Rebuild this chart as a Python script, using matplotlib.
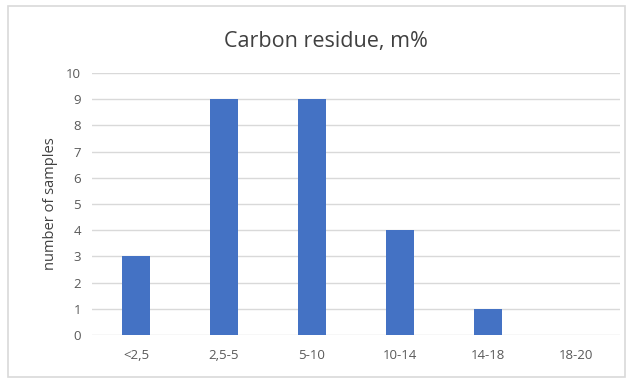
import matplotlib.pyplot as plt
from matplotlib.patches import Rectangle

categories = ['<2,5', '2,5-5', '5-10', '10-14', '14-18', '18-20']
counts = [3, 9, 9, 4, 1, 0]
yticks = list(range(0, 11))

plt.rcParams['font.family'] = ['Open Sans', 'DejaVu Sans']

fig = plt.figure(figsize=(6.32, 3.79), dpi=100)
fig.patches.append(Rectangle((8 / 632, 2 / 379), 617 / 632, 371 / 379,
                             transform=fig.transFigure, fill=False,
                             edgecolor='#d9d9d9', linewidth=1.2))
ax = fig.add_axes([92 / 632, 1 - 335 / 379, 528 / 632, 262 / 379])

x = range(len(categories))
ax.bar(x, counts, width=0.32, color='#4472c4', zorder=3)

ax.set_xlim(-0.5, len(categories) - 0.5)
ax.set_ylim(0, 10)
ax.set_yticks(yticks)
ax.set_xticks(list(x))
ax.set_xticklabels(categories)
ax.grid(axis='y', color='#d9d9d9', linewidth=1, zorder=0)
for s in ax.spines.values():
    s.set_visible(False)
ax.tick_params(length=0, labelsize=9.5, colors='#595959', pad=8)
ax.tick_params(axis='x', pad=10)
ax.set_ylabel('number of samples', fontsize=10.5, color='#404040', labelpad=6)
fig.text(326 / 632, 1 - 42 / 379, 'Carbon residue, m%', ha='center', va='center',
         fontsize=15.5, color='#404040')

fig.savefig('out.png', dpi=100)
